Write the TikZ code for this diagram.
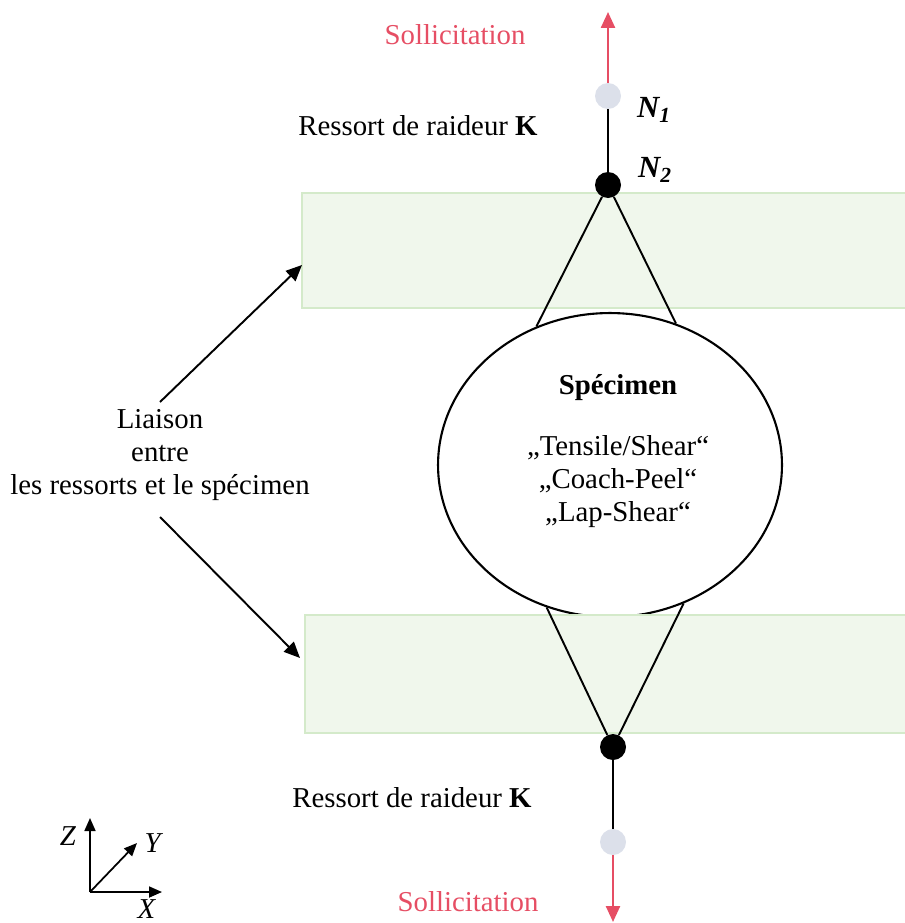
\documentclass[tikz,border=0pt]{standalone}
\usepackage{fontspec}
\setmainfont{Liberation Serif}
\usetikzlibrary{positioning,arrows.meta,shapes.geometric}
\definecolor{loadred}{RGB}{230,78,100}
\definecolor{bandgreen}{RGB}{240,247,236}
\definecolor{bandedge}{RGB}{212,234,202}
\definecolor{nodegrey}{RGB}{220,224,234}

\begin{document}
\begin{tikzpicture}[x=0.02cm, y=-0.02cm, font=\fontsize{16.4}{19}\selectfont,
    >={Triangle[length=3.2mm,width=2.8mm]},
    band/.style={draw=bandedge, fill=bandgreen, line width=0.8pt},
    dot/.style={circle, inner sep=0pt, minimum size=0.52cm},
    member/.style={line width=1.1pt},
    axisarrow/.style={-{Triangle[length=2.6mm,width=2.2mm]}, line width=1pt}]
  \useasboundingbox (0,0) rectangle (905,923);
  % specimen, then the two bands on top of it
  \node[draw, ellipse, line width=1.2pt, minimum width=6.88cm, minimum height=6.08cm, inner sep=0pt] (spec) at (610,465) {};
  \draw[band] (302,193) rectangle (912,308);
  \draw[band] (305,615) rectangle (912,733);
  \node[align=center] (spectext) at (618,451) {\textbf{Spécimen}\\[0.55cm]„Tensile/Shear“\\„Coach-Peel“\\„Lap-Shear“};
  % springs
  \node[dot, fill=nodegrey] (n1) at (608,96) {};
  \node[dot, fill=black] (n2) at (608,185) {};
  \node[dot, fill=black] (n3) at (613,747) {};
  \node[dot, fill=nodegrey] (n4) at (613,842) {};
  \coordinate (loadtop) at (608,12);
  \coordinate (loadbot) at (613,922);
  \draw[member] (n1) -- (n2);
  \draw[member] (n3) -- (n4);
  \draw[member] (n2) -- (spec.118) (n2) -- (spec.65);
  \draw[member] (n3) -- (spec.246) (n3) -- (spec.298);
  \draw[->, loadred, line width=1.4pt] (n1) -- (loadtop);
  \draw[->, loadred, line width=1.4pt] (n4) -- (loadbot);
  \node[text=loadred] (solltop) at (455,35) {Sollicitation};
  \node[text=loadred] (sollbot) at (468,902) {Sollicitation};
  \node (ktop) at (418,126) {Ressort de raideur \textbf{K}};
  \node (kbot) at (412,798) {Ressort de raideur \textbf{K}};
  \node[font=\fontsize{17.5}{20}\selectfont] (labn1) at (654,110) {\textbf{\textit{N\textsubscript{1}}}};
  \node[font=\fontsize{17.5}{20}\selectfont] (labn2) at (655,170) {\textbf{\textit{N\textsubscript{2}}}};
  % link label
  \node[align=center] (liaison) at (160,455) {Liaison\\entre\\les ressorts et le spécimen};
  \coordinate (lkup) at (160,402);
  \coordinate (lkdown) at (160,517);
  \coordinate (tipup) at (302,265);
  \coordinate (tipdown) at (300,658);
  \draw[->, member] (lkup) -- (tipup);
  \draw[->, member] (lkdown) -- (tipdown);
  % axes
  \coordinate (org) at (90,892);
  \coordinate (ez) at (90,818);
  \coordinate (ey) at (137,843);
  \coordinate (ex) at (162,892);
  \draw[axisarrow] (org) -- (ez);
  \draw[axisarrow] (org) -- (ey);
  \draw[axisarrow] (org) -- (ex);
  \node (labz) at (68,836) {\textit{Z}};
  \node (laby) at (154,843) {\textit{Y}};
  \node (labx) at (147,909) {\textit{X}};
\end{tikzpicture}
\end{document}
